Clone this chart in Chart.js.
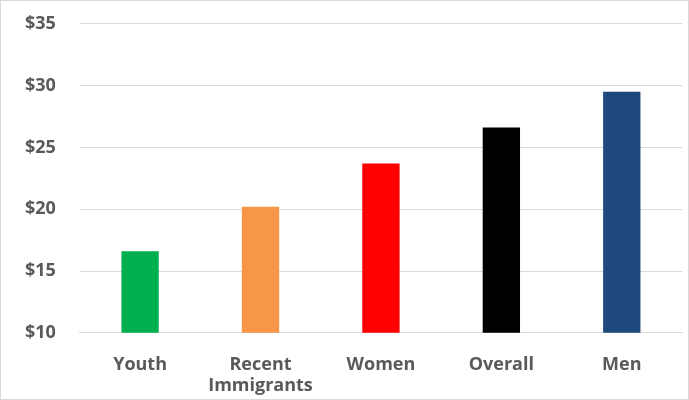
<!DOCTYPE html>
<html><head><script src="https://cdn.jsdelivr.net/npm/chart.js@4"></script>
<style>html,body{margin:0;padding:0;background:#fff;overflow:hidden}#f{width:689px;height:400px;box-sizing:border-box;border:1px solid #d9d9d9;overflow:hidden;position:relative}#w{position:absolute;left:0;top:-12px;width:687px;height:420px}</style>
</head><body><div id="f"><div id="w"><canvas id="c"></canvas></div></div>
<script>
const categories=[["Youth"],["Recent","Immigrants"],["Women"],["Overall"],["Men"]];
const values=[16.6,20.2,23.7,26.6,29.5];
const colors=["#00B050","#F79646","#FF0000","#000000","#1F497D"];
new Chart(document.getElementById('c'),{type:'bar',
data:{labels:categories,datasets:[{data:values,backgroundColor:colors,barPercentage:0.31,categoryPercentage:1}]},
options:{responsive:true,maintainAspectRatio:false,animation:false,
layout:{padding:{left:0,right:6,top:-12,bottom:-1}},
plugins:{legend:{display:false},tooltip:{enabled:false}},
scales:{x:{grid:{display:false},border:{color:'#d9d9d9'},ticks:{color:'#595959',font:{family:'Open Sans',size:18,weight:'bold'},padding:13}},
y:{min:10,max:35,ticks:{stepSize:5,color:'#595959',padding:24,font:{family:'Open Sans',size:18,weight:'bold'},callback:v=>'$'+v},
grid:{color:'#d9d9d9',drawTicks:false},border:{display:false}}}}});
</script></body></html>
